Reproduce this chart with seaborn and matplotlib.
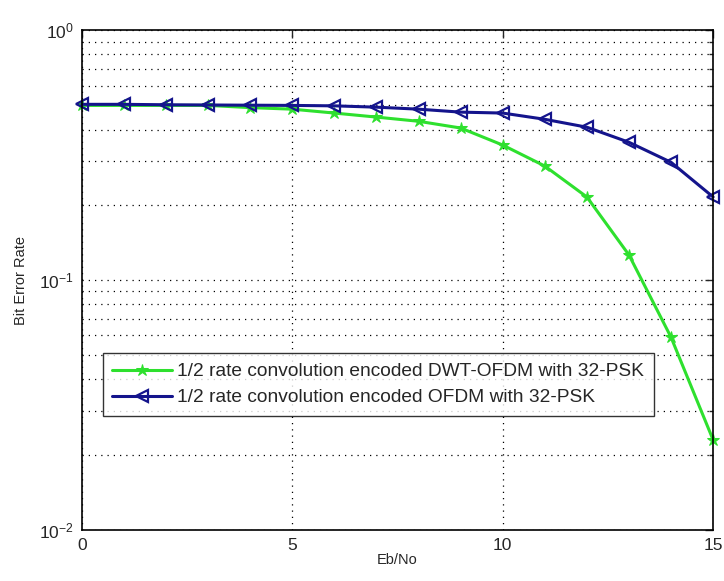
import numpy as np
import pandas as pd
import matplotlib
matplotlib.use("Agg")
import matplotlib.pyplot as plt
import seaborn as sns
from matplotlib.ticker import LogLocator, FixedLocator, NullFormatter

ebno = list(range(16))
ber_dwt = [0.50, 0.50, 0.50, 0.50, 0.49, 0.483, 0.466, 0.449, 0.432, 0.406,
           0.347, 0.286, 0.215, 0.126, 0.059, 0.0229]
ber_ofdm = [0.505, 0.505, 0.503, 0.502, 0.501, 0.50, 0.498, 0.492, 0.483, 0.47,
            0.466, 0.44, 0.409, 0.356, 0.296, 0.215]
labels = ["1/2 rate convolution encoded DWT-OFDM with 32-PSK",
          "1/2 rate convolution encoded OFDM with 32-PSK"]
x_ticks = [0, 5, 10, 15]

sns.set_style("white")
plt.rcParams['font.family'] = ['Liberation Sans', 'DejaVu Sans']
plt.rcParams['mathtext.fontset'] = 'custom'
plt.rcParams['mathtext.rm'] = 'Liberation Sans'

fig = plt.figure(figsize=(7.24, 5.81), dpi=100)
ax = fig.add_axes([0.113, 0.088, 0.872, 0.860])

green = '#2ee02e'
blue = '#14148c'

df1 = pd.DataFrame({'x': ebno, 'y': ber_dwt})
df2 = pd.DataFrame({'x': ebno, 'y': ber_ofdm})
sns.lineplot(data=df1, x='x', y='y', ax=ax, color=green, lw=2.2, marker='*',
             markersize=9, markeredgecolor=green, label=labels[0], clip_on=False)
sns.lineplot(data=df2, x='x', y='y', ax=ax, color=blue, lw=2.2, marker='<',
             markersize=9, markerfacecolor='none', markeredgecolor=blue,
             markeredgewidth=1.6, label=labels[1], clip_on=False)

ax.set_yscale('log')
ax.set_xlim(0, 15)
ax.set_ylim(1e-2, 1)
ax.xaxis.set_major_locator(FixedLocator(x_ticks))
ax.yaxis.set_major_locator(LogLocator(base=10, numticks=10))
ax.yaxis.set_minor_locator(LogLocator(base=10, subs=np.arange(2, 10), numticks=20))
ax.yaxis.set_minor_formatter(NullFormatter())

ax.grid(True, which='major', axis='both', color='black', linestyle=(0, (1, 4)), lw=0.9)
ax.grid(True, which='minor', axis='y', color='black', linestyle=(0, (1, 4)), lw=0.9)
ax.tick_params(which='both', direction='in', top=True, right=True,
               labelsize=12.5, pad=6)
ax.tick_params(which='major', length=6, width=1)
ax.tick_params(which='minor', length=3, width=1)
for s in ax.spines.values():
    s.set_color('black')
    s.set_linewidth(1.2)

ax.set_xlabel('Eb/No', fontsize=10.5, labelpad=0)
ax.set_ylabel('Bit Error Rate', fontsize=10.5, labelpad=8)

leg = ax.legend(loc='lower left', bbox_to_anchor=(0.033, 0.228), fontsize=13.8,
                handlelength=3.1, handletextpad=0.3, frameon=True, fancybox=False,
                borderpad=0.5, labelspacing=0.45, borderaxespad=0)
leg.get_frame().set_edgecolor('black')
leg.get_frame().set_linewidth(1.0)

fig.savefig('out.png', dpi=100, facecolor='white')
